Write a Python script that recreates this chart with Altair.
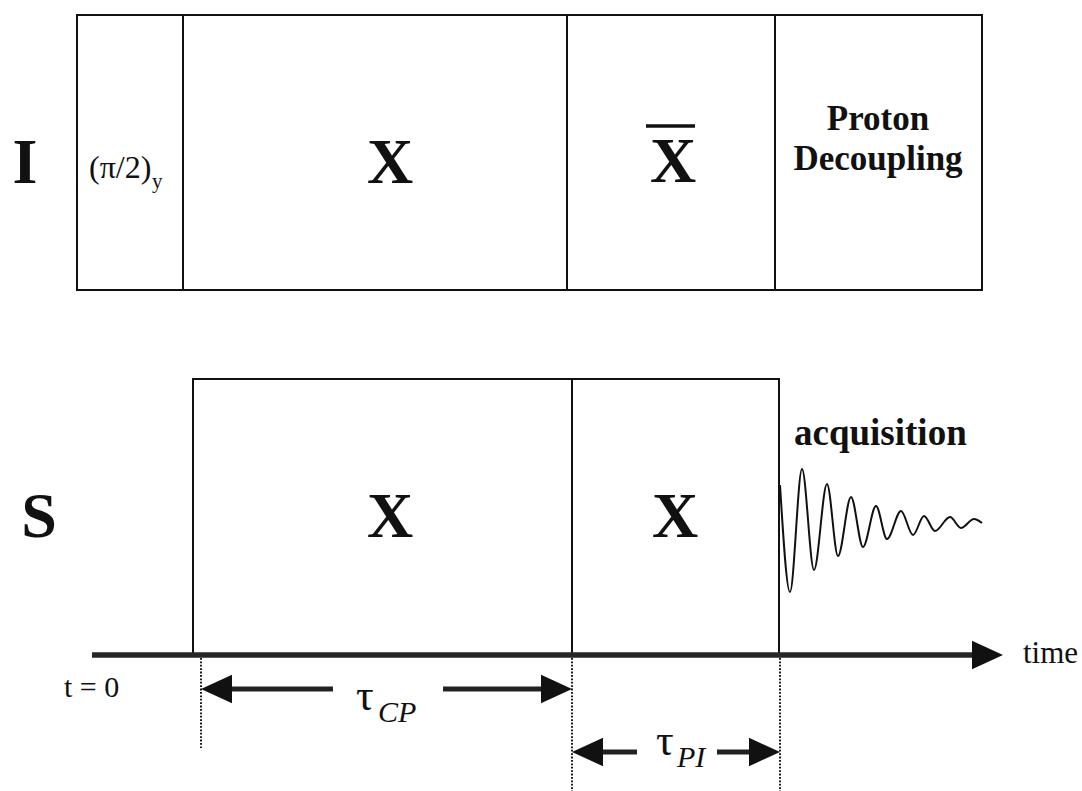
import altair as alt
import pandas as pd

W, H = 1082, 791
SERIF = "Liberation Serif"
INK = "#111111"

# ---- pulse-sequence timing (diagram units) ----
# I channel: start, end of (pi/2)_y, end of X spin-lock, end of X-bar, end of decoupling
i_edges = [77, 183, 567, 775, 982]
i_row = [15, 290]
# S channel: start of contact, end of X (tau_CP), end of X (tau_PI)
s_edges = [193, 572, 779]
s_row = [379, 655]

# time axis
axis_y = 655
axis_start = 92
axis_tip = 1003
head_len = 31

# free-induction decay after the S pulse (turning points)
fid_t = [780, 790, 802, 814, 827, 838, 851, 863, 876, 887, 901, 913, 924, 935, 950, 961, 974, 982]
fid_v = [485, 592, 469, 570, 484, 556, 497, 547, 506, 539, 511, 535, 516, 531, 517, 528, 519, 523]

# interval markers under the axis
marker_x = [201, 572, 780]
marker_end = [748, 791, 791]
tau_start = [201, 572]
tau_end = [572, 780]
tau_level = [689, 752]
tau_gap_from = [333, 637]
tau_gap_to = [443, 717]

# ---- text ----
big_text = ["I", "X", "X", "S", "X", "X"]
big_x = [25, 390, 673, 39, 390, 675]
big_y = [183, 183, 182, 537, 537, 537]
bar_x = [646, 695]
bar_y = 126

pd_text = ["Proton", "Decoupling"]
pd_x = [878, 878]
pd_y = [130, 170]

tau_x = [356, 656]
tau_y = [710, 755]
sub_text = ["CP", "PI"]
sub_x = [378, 677]
sub_y = [722, 767]

xs = alt.Scale(domain=[0, W], nice=False, zero=False)
ys = alt.Scale(domain=[0, H], reverse=True, nice=False, zero=False)


def ex(f):
    return alt.X(f, type="quantitative", scale=xs, axis=None)


def ey(f):
    return alt.Y(f, type="quantitative", scale=ys, axis=None)


def text_layer(labels, x, y, size, weight="normal", style="normal", align="center"):
    df = pd.DataFrame({"label": labels, "x": x, "y": y})
    return alt.Chart(df).mark_text(
        font=SERIF, fontSize=size, fontWeight=weight, fontStyle=style,
        align=align, baseline="alphabetic", color=INK
    ).encode(x=ex("x"), y=ey("y"), text="label:N")


# pulse blocks
rows = []
for a, b in zip(i_edges[:-1], i_edges[1:]):
    rows.append({"x0": a, "x1": b, "y0": i_row[0], "y1": i_row[1]})
for a, b in zip(s_edges[:-1], s_edges[1:]):
    rows.append({"x0": a, "x1": b, "y0": s_row[0], "y1": s_row[1]})
blocks = alt.Chart(pd.DataFrame(rows)).mark_rect(
    fill="white", stroke=INK, strokeWidth=2
).encode(x=ex("x0"), x2="x1", y=ey("y0"), y2="y1")

# time axis
axis_df = pd.DataFrame({"x0": [axis_start], "x1": [axis_tip - head_len + 2], "y": [axis_y]})
axis_line = alt.Chart(axis_df).mark_rule(color="#262626", strokeWidth=5.5).encode(
    x=ex("x0"), x2="x1", y=ey("y"))

# dotted markers
dot_df = pd.DataFrame({"x": marker_x, "y0": [axis_y + 3] * 3, "y1": marker_end})
dots = alt.Chart(dot_df).mark_rule(color="#1a1a1a", strokeWidth=2, strokeDash=[1.8, 1.6]).encode(
    x=ex("x"), y=ey("y0"), y2="y1")

# tau arrow shafts
shaft_rows = []
for a, b, lv, g0, g1 in zip(tau_start, tau_end, tau_level, tau_gap_from, tau_gap_to):
    shaft_rows.append({"x0": a + head_len - 2, "x1": g0, "y": lv})
    shaft_rows.append({"x0": g1, "x1": b - head_len + 2, "y": lv})
shafts = alt.Chart(pd.DataFrame(shaft_rows)).mark_rule(color="#222222", strokeWidth=5).encode(
    x=ex("x0"), x2="x1", y=ey("y"))

# arrow heads
right_tips = [(axis_tip, axis_y)] + [(b, lv) for b, lv in zip(tau_end, tau_level)]
left_tips = [(a, lv) for a, lv in zip(tau_start, tau_level)]
right_df = pd.DataFrame({"x": [t - head_len / 2 for t, _ in right_tips], "y": [v for _, v in right_tips]})
left_df = pd.DataFrame({"x": [t + head_len / 2 for t, _ in left_tips], "y": [v for _, v in left_tips]})
head_kw = dict(filled=True, fill="#111111", strokeWidth=0, opacity=1, size=head_len ** 2)
heads_r = alt.Chart(right_df).mark_point(shape="M1,0L-1,-0.92L-1,0.92Z", **head_kw).encode(
    x=ex("x"), y=ey("y"))
heads_l = alt.Chart(left_df).mark_point(shape="M-1,0L1,-0.92L1,0.92Z", **head_kw).encode(
    x=ex("x"), y=ey("y"))

# FID trace
fid = alt.Chart(pd.DataFrame({"t": fid_t, "v": fid_v})).mark_line(
    color=INK, strokeWidth=2, interpolate="monotone"
).encode(x=ex("t"), y=ey("v"))

# X-bar overline
bar = alt.Chart(pd.DataFrame({"x0": [bar_x[0]], "x1": [bar_x[1]], "y": [bar_y]})).mark_rule(
    color=INK, strokeWidth=3.5).encode(x=ex("x0"), x2="x1", y=ey("y"))

texts = [
    text_layer(big_text, big_x, big_y, 64, weight="bold"),
    text_layer(pd_text, pd_x, pd_y, 35, weight="bold"),
    text_layer(["acquisition"], [794], [445], 37, weight="bold", align="left"),
    text_layer(["(π/2)"], [89], [178], 32, align="left"),
    text_layer(["y"], [152], [188], 21, align="left"),
    text_layer(["t = 0"], [64], [697], 30, align="left"),
    text_layer(["time"], [1023], [663], 31, align="left"),
    text_layer(["τ", "τ"], tau_x, tau_y, 44, align="left"),
    text_layer(sub_text, sub_x, sub_y, 30, style="italic", align="left"),
]

chart = alt.layer(
    blocks, axis_line, dots, shafts, heads_r, heads_l, fid, bar, *texts
).properties(
    width=W, height=H, padding=0, autosize=alt.AutoSizeParams(type="none"), background="white"
).configure_view(stroke=None)

chart.save("out.html", embed_options={"renderer": "svg", "actions": False})
